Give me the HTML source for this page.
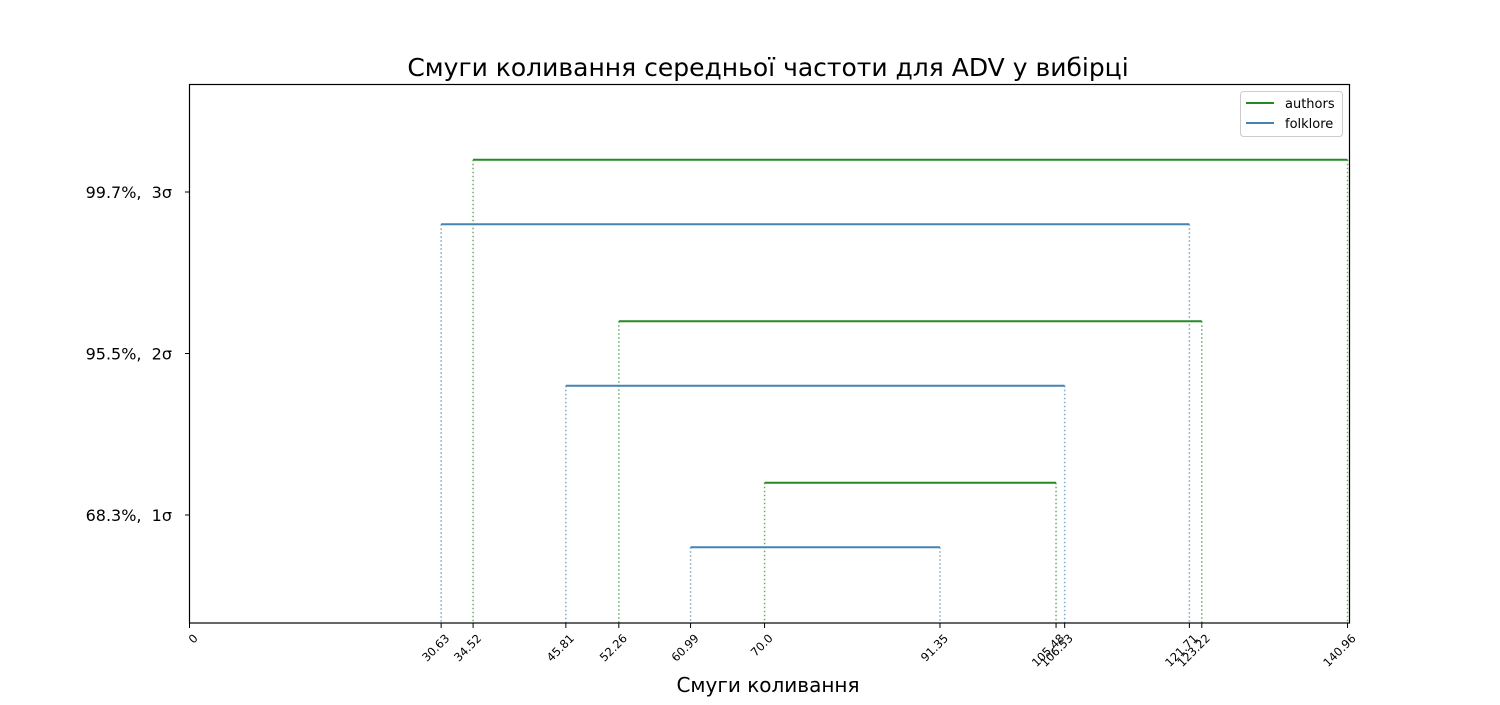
<!DOCTYPE html>
<html><head><meta charset="utf-8"><style>
body{margin:0;background:#fff;font-family:"Liberation Sans","DejaVu Sans",sans-serif}
text{white-space:pre}
</style></head><body>
<svg id="chart" width="1500" height="700" xmlns="http://www.w3.org/2000/svg" font-family="DejaVu Sans, Liberation Sans, sans-serif">
<rect width="1500" height="700" fill="#fff"/>
<text x="768" y="76" text-anchor="middle" font-size="25">Смуги коливання середньої частоти для ADV у вибірці</text>
<text x="768" y="692" text-anchor="middle" font-size="20">Смуги коливання</text>
<g id="marks"></g>
<rect x="189.5" y="84.5" width="1160" height="538.5" fill="none" stroke="#000" stroke-width="1.2"/>
<g id="axes"></g>
<g>
<rect x="1240.5" y="91.5" width="102" height="45" rx="3" fill="#fff" stroke="#ccc"/>
<line x1="1246" y1="103" x2="1274" y2="103" stroke="#228B22" stroke-width="2"/>
<text x="1285" y="108" font-size="13">authors</text>
<line x1="1246" y1="123" x2="1274" y2="123" stroke="#4682B4" stroke-width="2"/>
<text x="1285" y="128" font-size="13">folklore</text>
</g>
</svg>
<script>
const seriesNames = ['authors','folklore'];
const levels = [1,2,3];
const levelLabels = ['68.3%,  1σ','95.5%,  2σ','99.7%,  3σ'];
const authorsLow = [70.0,52.26,34.52];
const authorsHigh = [105.48,123.22,140.96];
const folkloreLow = [60.99,45.81,30.63];
const folkloreHigh = [91.35,106.53,121.71];
const xTicks = [0,30.63,34.52,45.81,52.26,60.99,70.0,91.35,105.48,106.53,121.71,123.22,140.96];
const xTickLabels = ['0','30.63','34.52','45.81','52.26','60.99','70.0','91.35','105.48','106.53','121.71','123.22','140.96'];

const NS='http://www.w3.org/2000/svg';
const X0=189.5, X1=1349.5, XMAX=141.2;
const xs=v=>X0+(v/XMAX)*(X1-X0);
const ys=v=>676.5-v*161.5;
const marks=document.getElementById('marks'), axes=document.getElementById('axes');
function mk(tag,attrs,parent){const e=document.createElementNS(NS,tag);for(const k in attrs)e.setAttribute(k,attrs[k]);parent.appendChild(e);return e;}
const yBot=623;
function band(lo,hi,lvl,off,color,name){
  const y=ys(lvl+off);
  const l1=mk('line',{x1:xs(lo),x2:xs(lo),y1:y,y2:yBot,stroke:color,'stroke-width':1.5,'stroke-dasharray':'1.5,2.5',opacity:0.7},marks);
  
  
  const l2=mk('line',{x1:xs(hi),x2:xs(hi),y1:y,y2:yBot,stroke:color,'stroke-width':1.5,'stroke-dasharray':'1.5,2.5',opacity:0.7},marks);
  
  
  const b=mk('line',{x1:xs(lo),x2:xs(hi),y1:y,y2:y,stroke:color,'stroke-width':2},marks);
  
  
}
levels.forEach((lv,i)=>{
  band(authorsLow[i],authorsHigh[i],lv,0.2,'#228B22','authors-'+lv+'sigma');
  band(folkloreLow[i],folkloreHigh[i],lv,-0.2,'#4682B4','folklore-'+lv+'sigma');
});
levels.forEach((lv,i)=>{
  const y=ys(lv);
  mk('line',{x1:185,x2:189.5,y1:y,y2:y,stroke:'#000'},axes);
  const t=mk('text',{x:172,y:y+6,'text-anchor':'end','font-size':16},axes);
  t.textContent=levelLabels[i];
  
  
});
xTicks.forEach((v,i)=>{
  const x=xs(v);
  mk('line',{x1:x,x2:x,y1:623,y2:628,stroke:'#000'},axes);
  const ax=x+9, ay=639;
  const t=mk('text',{x:ax,y:ay,'text-anchor':'end','font-size':11.5,transform:`rotate(-45 ${ax} ${ay})`},axes);
  t.textContent=xTickLabels[i];
  
  
});
</script>
</body></html>
